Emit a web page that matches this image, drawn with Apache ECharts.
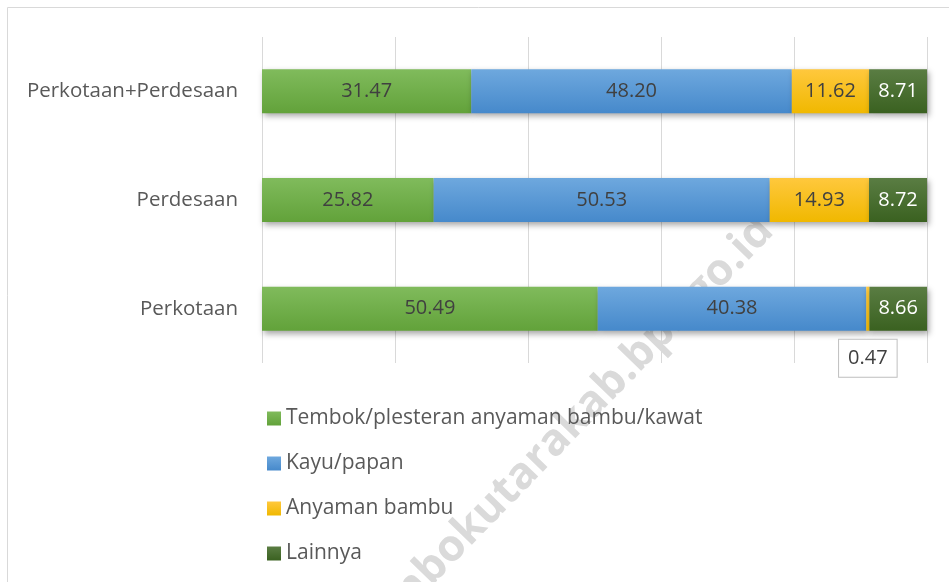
<!DOCTYPE html>
<html>
<head>
<meta charset="utf-8">
<script src="https://cdn.jsdelivr.net/npm/echarts@6/dist/echarts.min.js"></script>
<style>
  html, body { margin: 0; padding: 0; background: #fff; }
  #chart { width: 949px; height: 582px; }
</style>
</head>
<body>
<div id="chart"></div>
<script>
// kategori dari bawah ke atas
const categories = ['Perkotaan', 'Perdesaan', 'Perkotaan+Perdesaan'];
const seriesNames = ['Tembok/plesteran anyaman bambu/kawat', 'Kayu/papan', 'Anyaman bambu', 'Lainnya'];
const tembok = [50.49, 25.82, 31.47];
const kayu = [40.38, 50.53, 48.20];
const anyaman = [0.47, 14.93, 11.62];
const lainnya = [8.66, 8.72, 8.71];

const FONT = 'Open Sans';
const chart = echarts.init(document.getElementById('chart'));

const grad = (top, bottom) => new echarts.graphic.LinearGradient(0, 0, 0, 1, [
  { offset: 0, color: top },
  { offset: 1, color: bottom }
]);

const makeSeries = (name, data, fill, labelColor) => ({
  name: name,
  type: 'bar',
  stack: 'total',
  barWidth: 44,
  data: data,
  itemStyle: {
    color: fill,
    shadowBlur: 6,
    shadowColor: 'rgba(0,0,0,0.35)',
    shadowOffsetX: 2,
    shadowOffsetY: 3
  },
  label: {
    show: true,
    position: 'inside',
    color: labelColor,
    fontSize: 20,
    fontFamily: FONT,
    formatter: p => p.value.toFixed(2)
  }
});

const sAnyaman = makeSeries(seriesNames[2], anyaman.map((v, i) => {
  if (i !== 0) return v;
  // nilai kecil: label di bawah dalam kotak
  return {
    value: v,
    label: {
      position: 'bottom',
      distance: 9,
      backgroundColor: '#fff',
      borderColor: '#bfbfbf',
      borderWidth: 1,
      padding: [9, 9, 8, 9],
      color: '#404040'
    }
  };
}), grad('#ffc83d', '#f0b800'), '#404040');

const option = {
  animation: false,
  textStyle: { fontFamily: FONT },
  grid: { left: 262, right: 22, top: 37, bottom: 219 },
  xAxis: {
    type: 'value',
    min: 0,
    max: 100,
    interval: 20,
    axisLabel: { show: false },
    axisLine: { show: false },
    axisTick: { show: false },
    splitLine: { lineStyle: { color: '#d9d9d9', width: 1 } }
  },
  yAxis: {
    type: 'category',
    data: categories,
    axisLine: { show: false },
    axisTick: { show: false },
    axisLabel: { color: '#595959', fontSize: 20.5, fontFamily: FONT, margin: 24 }
  },
  legend: {
    orient: 'vertical',
    left: 262,
    top: 403,
    itemWidth: 14,
    itemHeight: 14,
    itemGap: 24,
    icon: 'rect',
    textStyle: { color: '#595959', fontSize: 21, fontFamily: FONT, lineHeight: 21 },
    data: seriesNames
  },
  color: ['#70ad47', '#5b9bd5', '#ffc000', '#43682b'],
  series: [
    makeSeries(seriesNames[0], tembok, grad('#80bb5c', '#62a23a'), '#404040'),
    makeSeries(seriesNames[1], kayu, grad('#6ea8de', '#4689cb'), '#404040'),
    sAnyaman,
    makeSeries(seriesNames[3], lainnya, grad('#5a7d43', '#3a6120'), '#ffffff')
  ],
  graphic: [
    {
      type: 'rect',
      shape: { x: 7.5, y: 7.5, width: 1000, height: 700 },
      style: { fill: 'none', stroke: '#d9d9d9', lineWidth: 1 },
      silent: true
    },
    {
      type: 'text',
      x: 565,
      y: 431,
      rotation: 0.8,
      z: 1,
      silent: true,
      style: {
        text: 'lombokutarakab.bps.go.id',
        fontSize: 44,
        fontWeight: 'bold',
        fontFamily: FONT,
        fill: '#dadada',
        align: 'center',
        verticalAlign: 'middle'
      }
    }
  ]
};

chart.setOption(option);
</script>
</body>
</html>
